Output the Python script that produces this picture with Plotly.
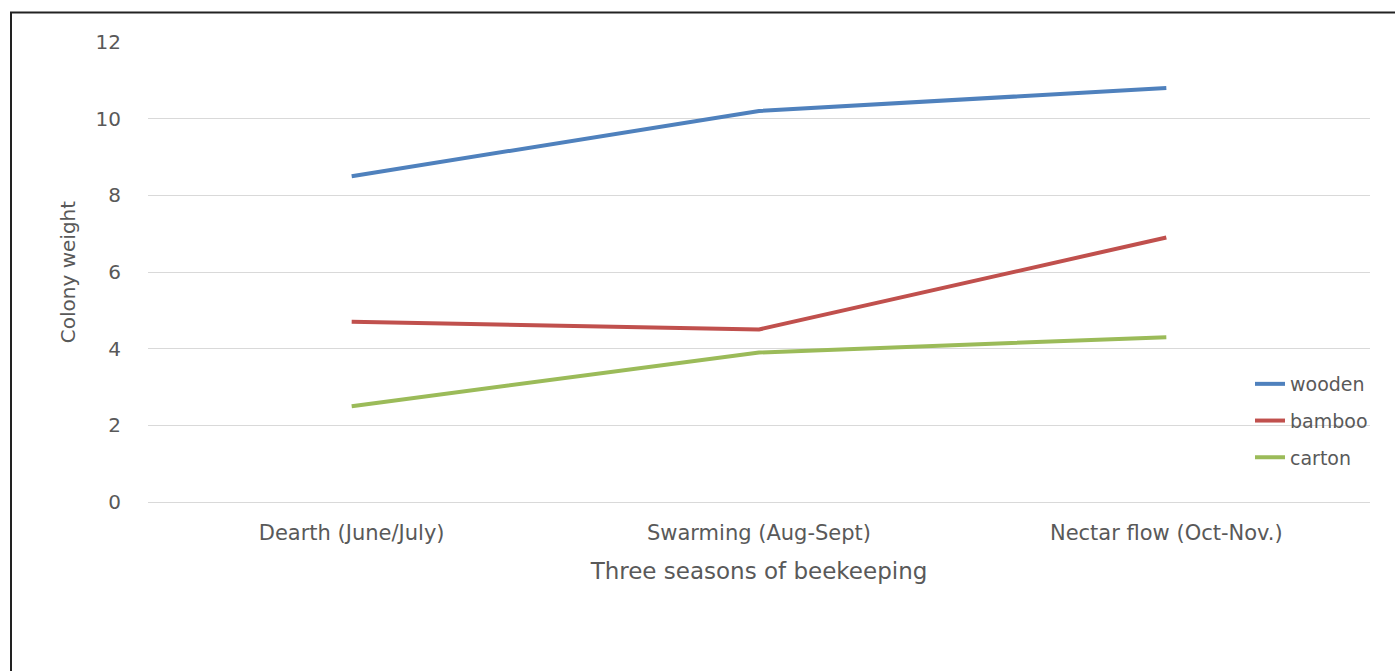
import plotly.graph_objects as go

categories = ["Dearth (June/July)", "Swarming (Aug-Sept)", "Nectar flow (Oct-Nov.)"]
wooden = [8.5, 10.2, 10.8]
bamboo = [4.7, 4.5, 6.9]
carton = [2.5, 3.9, 4.3]
y_ticks = [0, 2, 4, 6, 8, 10, 12]

W, H = 1395, 671
L, R, T, B = 148, 25, 42, 169
pw, ph = W - L - R, H - T - B

def px_x(p):
    return (p - L) / pw

def px_y(p):
    return (H - B - p) / ph

FONT = "DejaVu Sans"
GREY = "#595959"

fig = go.Figure()
series = [("wooden", wooden, "#4F81BD"), ("bamboo", bamboo, "#C0504D"), ("carton", carton, "#9BBB59")]
for name, vals, col in series:
    fig.add_trace(go.Scatter(x=categories, y=vals, name=name, mode="lines",
                             line=dict(color=col, width=4), legendgroup=name))

fig.update_layout(
    width=W, height=H,
    margin=dict(l=L, r=R, t=T, b=B, pad=0),
    paper_bgcolor="white", plot_bgcolor="white",
    font=dict(family=FONT, color=GREY),
    showlegend=True,
    legend=dict(x=px_x(1250), y=px_y(365), xanchor="left", yanchor="top",
                font=dict(size=19, color=GREY, family=FONT), tracegroupgap=9,
                bgcolor="rgba(0,0,0,0)", itemwidth=30),
    xaxis=dict(showgrid=False, showline=True, linecolor="#D9D9D9", linewidth=1,
               tickfont=dict(size=21, color=GREY, family=FONT), ticks="",
               ticklabelstandoff=12,
               title=dict(text="Three seasons of beekeeping", font=dict(size=23, color=GREY, family=FONT),
                          standoff=18),
               range=[-0.5, 2.5]),
    yaxis=dict(range=[0, 12], tickvals=y_ticks, showgrid=True, gridcolor="#D9D9D9",
               gridwidth=1, zeroline=False, showline=False, ticks="",
               tickfont=dict(size=20, color=GREY, family=FONT), ticklabelstandoff=26,
               title=dict(text="Colony weight", font=dict(size=20, color=GREY, family=FONT), standoff=14)),
    shapes=[dict(type="rect", xref="paper", yref="paper",
                 x0=px_x(11), x1=px_x(1410), y0=px_y(12.5), y1=px_y(690),
                 line=dict(color="#222222", width=2), fillcolor="rgba(0,0,0,0)", layer="above")],
)

fig.write_html("out.html")
